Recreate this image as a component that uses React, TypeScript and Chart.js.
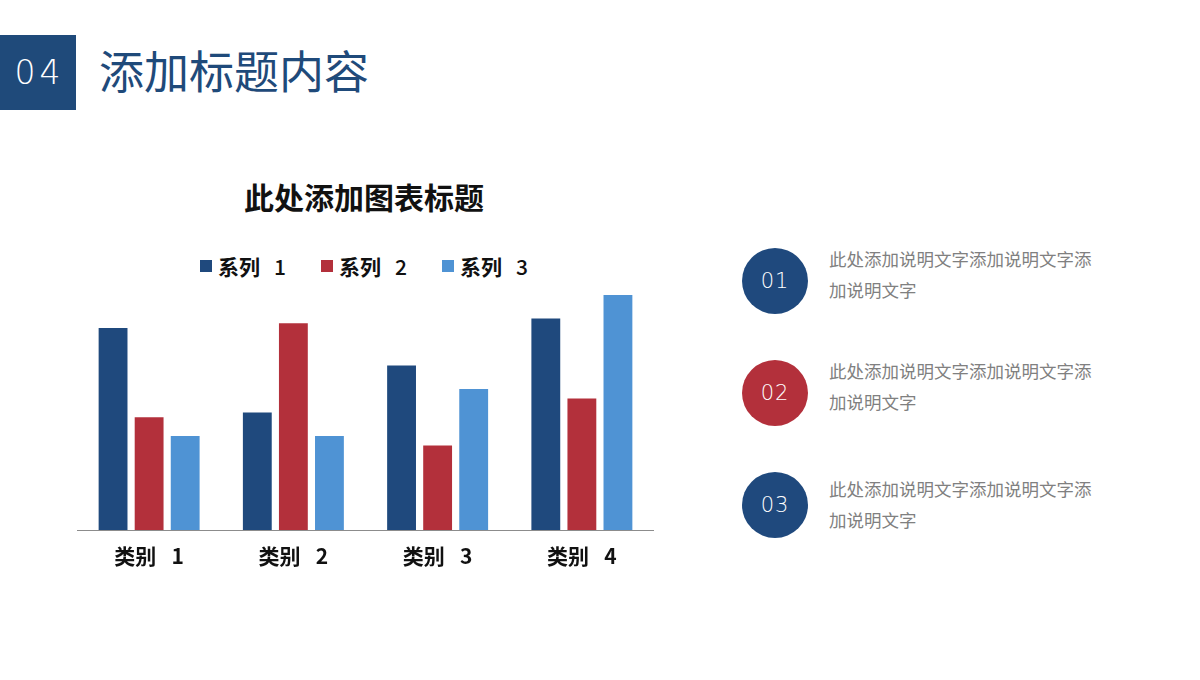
import React, { useEffect, useRef } from "react";
import { Chart, registerables } from "chart.js";

Chart.register(...registerables);

const categories = ["类别 1", "类别 2", "类别 3", "类别 4"];
const seriesNames = ["系列 1", "系列 2", "系列 3"];
const series1 = [4.3, 2.5, 3.5, 4.5];
const series2 = [2.4, 4.4, 1.8, 2.8];
const series3 = [2, 2, 3, 5];
const seriesColors = ["#1F497D", "#B3303B", "#4F93D4"];
const yMin = 0;
const yMax = 5;

const notes = [
  { num: "01", color: "#1F497D", text: "此处添加说明文字添加说明文字添加说明文字" },
  { num: "02", color: "#B3303B", text: "此处添加说明文字添加说明文字添加说明文字" },
  { num: "03", color: "#1F497D", text: "此处添加说明文字添加说明文字添加说明文字" },
];

const CJK = '"Noto Sans CJK SC", "Noto Sans", sans-serif';
const THIN = '"DejaVu Sans", "Noto Sans", sans-serif';

export default function App() {
  const ref = useRef<HTMLCanvasElement | null>(null);

  useEffect(() => {
    if (!ref.current) return;
    const data = [series1, series2, series3];
    const chart = new Chart(ref.current, {
      type: "bar",
      data: {
        labels: categories,
        datasets: seriesNames.map((name, i) => ({
          label: name,
          data: data[i],
          backgroundColor: seriesColors[i],
          borderWidth: 0,
          categoryPercentage: 0.75,
          barPercentage: 0.8,
        })),
      },
      options: {
        responsive: false,
        animation: false,
        layout: { padding: { top: 10, left: 0, right: 0, bottom: 0 } },
        plugins: {
          legend: { display: false },
          title: { display: false },
          tooltip: { enabled: false },
        },
        scales: {
          x: {
            grid: { display: false, drawTicks: false },
            border: { display: true, color: "#8C8C8C", width: 1 },
            ticks: {
              color: "#111111",
              padding: 13,
              font: { family: CJK, size: 21, weight: "bold" },
              callback: (_v: any, i: number) => categories[i].replace(" ", "\u2002 "),
            },
            afterFit: (scale: any) => {
              scale.height = 53;
            },
          },
          y: {
            display: false,
            min: yMin,
            max: yMax,
          },
        },
      },
    });
    return () => chart.destroy();
  }, []);

  return (
    <div
      style={{
        position: "fixed",
        left: 0,
        top: 0,
        width: 1200,
        height: 680,
        background: "#ffffff",
        overflow: "hidden",
        fontFamily: CJK,
      }}
    >
      {/* header */}
      <div
        style={{
          position: "absolute",
          left: 0,
          top: 35,
          width: 76,
          height: 75,
          background: "#1F4A7A",
          color: "#ffffff",
          display: "flex",
          alignItems: "center",
          justifyContent: "center",
          fontFamily: THIN,
          fontWeight: 200,
          fontSize: 33,
          letterSpacing: 4,
          paddingLeft: 3,
          boxSizing: "border-box",
        }}
      >
        04
      </div>
      <div
        style={{
          position: "absolute",
          left: 99,
          top: 38,
          height: 64,
          lineHeight: "64px",
          fontSize: 45,
          color: "#1F4A7A",
          whiteSpace: "nowrap",
        }}
      >
        添加标题内容
      </div>

      {/* chart title */}
      <div
        style={{
          position: "absolute",
          left: 164,
          width: 400,
          top: 176,
          height: 40,
          lineHeight: "40px",
          textAlign: "center",
          fontSize: 30,
          fontWeight: "bold",
          color: "#111111",
        }}
      >
        此处添加图表标题
      </div>

      {/* legend */}
      {seriesNames.map((name, i) => {
        const [word, num] = name.split(" ");
        return (
          <div
            key={name}
            style={{
              position: "absolute",
              left: 200 + i * 121,
              top: 252,
              height: 28,
              display: "flex",
              alignItems: "center",
              whiteSpace: "nowrap",
              fontSize: 21,
              color: "#111111",
            }}
          >
            <span
              style={{
                display: "inline-block",
                width: 12,
                height: 12,
                background: seriesColors[i],
                marginRight: 6,
              }}
            />
            <span style={{ fontWeight: "bold" }}>{word}</span>
            <span style={{ marginLeft: 14, fontWeight: 500 }}>{num}</span>
          </div>
        );
      })}

      {/* chart canvas */}
      <canvas
        ref={ref}
        width={577}
        height={298}
        style={{ position: "absolute", left: 77, top: 285, width: 577, height: 298 }}
      />

      {/* notes */}
      {notes.map((n, i) => (
        <React.Fragment key={n.num}>
          <div
            style={{
              position: "absolute",
              left: 742,
              top: 248 + i * 112,
              width: 66,
              height: 66,
              borderRadius: "50%",
              background: n.color,
              color: "#ffffff",
              display: "flex",
              alignItems: "center",
              justifyContent: "center",
              fontFamily: THIN,
              fontWeight: 200,
              fontSize: 21,
              letterSpacing: 1,
            }}
          >
            {n.num}
          </div>
          <div
            style={{
              position: "absolute",
              left: 829,
              top: 243 + i * 112 + (i === 2 ? 6 : 0),
              width: 268,
              fontSize: 17.5,
              lineHeight: "31px",
              color: "#808080",
              wordBreak: "break-all",
            }}
          >
            {n.text}
          </div>
        </React.Fragment>
      ))}
    </div>
  );
}
